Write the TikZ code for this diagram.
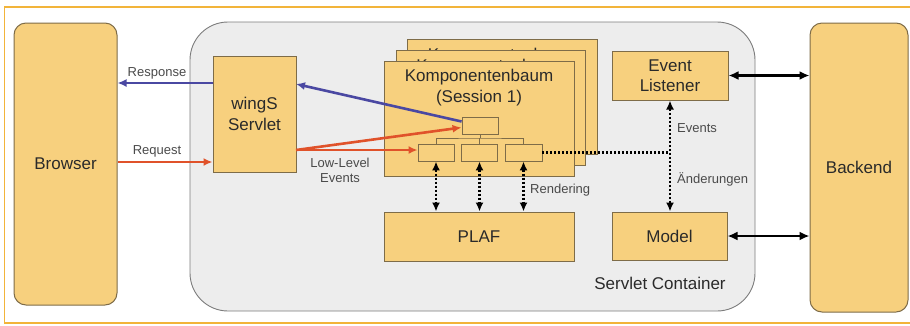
\documentclass[tikz,border=0pt]{standalone}
\usepackage{fontspec}
\setmainfont{Liberation Sans}
\usetikzlibrary{arrows.meta,calc}
\definecolor{boxfill}{HTML}{F7D07E}
\definecolor{boxline}{HTML}{7E6C48}
\definecolor{contfill}{HTML}{EDEDED}
\definecolor{contline}{HTML}{7C7C7C}
\definecolor{frameor}{HTML}{F2B43A}
\definecolor{resblue}{HTML}{4A48A2}
\definecolor{reqred}{HTML}{E0522A}
\definecolor{txt}{HTML}{2A2A2A}
\definecolor{lbl}{HTML}{4A4A4A}
\tikzset{
  ybox/.style={draw=boxline, fill=boxfill, line width=1pt, inner sep=0pt, align=center,
    font=\fontsize{17}{20.5}\selectfont, text=txt},
  rbox/.style={ybox, rounded corners=12pt},
  small/.style={draw=boxline, fill=boxfill, line width=0.9pt, inner sep=0pt, minimum width=36pt, minimum height=17pt},
  lab/.style={font=\fontsize{13}{15}\selectfont, text=lbl, inner sep=0pt, align=center},
  bluearr/.style={draw=resblue, line width=2.6pt, -{Latex[length=9pt,width=8pt]}},
  redarr/.style={draw=reqred, line width=2.6pt, -{Latex[length=9pt,width=8pt]}},
  blkarr/.style={draw=black, line width=2.2pt, {Latex[length=10pt,width=9pt]}-{Latex[length=10pt,width=9pt]}},
  dotarr/.style={draw=black, line width=2.4pt, dash pattern=on 2pt off 2pt, {Latex[length=9pt,width=8pt]}-{Latex[length=9pt,width=8pt]}},
  dotline/.style={draw=black, line width=2.4pt, dash pattern=on 2pt off 2pt},
  treeline/.style={draw=boxline, line width=0.9pt},
  hidtxt/.style={font=\fontsize{17}{20}\selectfont, text=txt, inner sep=0pt},
}
\begin{document}
\begin{tikzpicture}[x=1pt,y=-1pt]
\useasboundingbox (0,0) rectangle (910,325);
\draw[frameor, line width=1.3pt] (4.5,7) rectangle (920,323);
% container
\node[draw=contline, fill=contfill, line width=0.9pt, rounded corners=38pt,
  minimum width=565pt, minimum height=289pt, inner sep=0pt] (cont) at (472.5,166.5) {};
\node[font=\fontsize{17}{20}\selectfont, text=txt, inner sep=0pt] (contlab) at (660,283) {Servlet Container};
% outer boxes
\node[rbox, minimum width=103pt, minimum height=282pt] (browser) at (65.5,164) {Browser};
\node[rbox, minimum width=98pt, minimum height=289pt] (backend) at (859,167.5) {Backend};
% wingS
\node[ybox, minimum width=83pt, minimum height=116pt] (wings) at (254.5,114) {wingS\\Servlet};
% Komponentenbaum stack
\node[ybox, minimum width=190pt, minimum height=115pt] (kb3) at (502,96.5) {};
\begin{scope}
\clip (kb3.north west) rectangle (kb3.south east);
\node[hidtxt] (kb3t) at (502,56) {Komponentenbaum};
\end{scope}
\node[ybox, minimum width=189pt, minimum height=115pt] (kb2) at (490.5,107.5) {};
\begin{scope}
\clip (kb2.north west) rectangle (kb2.south east);
\node[hidtxt] (kb2t) at (490.5,67) {Komponentenbaum};
\end{scope}
\node[ybox, minimum width=190pt, minimum height=115pt] (kb1) at (479,118.5) {};
\node[font=\fontsize{17}{20.5}\selectfont, text=txt, inner sep=0pt, align=center] (kb1t) at (479,87.5) {Komponentenbaum\\(Session 1)};
% tree nodes
\node[small] (root) at (480,125.5) {};
\node[small] (c1) at (436,152.5) {};
\node[small] (c2) at (479.5,152.5) {};
\node[small, minimum width=37pt] (c3) at (523.5,152.5) {};
\coordinate (tj) at (480,138);
\draw[treeline] (root.south) -- (tj);
\draw[treeline] (c1.north) |- (tj) -| (c3.north);
\draw[treeline] (c2.north) -- (c2.north |- tj);
% PLAF, Event Listener, Model
\node[ybox, minimum width=190pt, minimum height=49pt] (plaf) at (479,236.5) {PLAF};
\node[ybox, minimum width=116pt, minimum height=49pt] (el) at (670,75.5) {Event\\Listener};
\node[ybox, minimum width=115pt, minimum height=48pt] (model) at (669.5,236) {Model};
% Response / Request
\coordinate (resp) at (0,83);
\coordinate (req) at (0,162);
\coordinate (wsr1) at (296,84);
\coordinate (wsr2) at (296,150);
\draw[bluearr] (wings.west |- resp) -- (browser.east |- resp);
\draw[redarr] (browser.east |- req) -- (wings.west |- req);
\node[lab] (resplab) at (157,73) {Response};
\node[lab] (reqlab) at (157,151) {Request};
% arrows between wingS and tree
\draw[bluearr] ([yshift=4pt]root.west) -- (wsr1);
\draw[redarr] (wsr2) -- ([yshift=-2pt]root.west);
\draw[redarr] (wsr2) -- (c1.west |- wsr2);
\node[lab] (lllab) at (340,170.5) {Low-Level\\Events};
% rendering
\draw[dotarr] (c1.south) -- (c1.south |- plaf.north);
\draw[dotarr] (c2.south) -- (c2.south |- plaf.north);
\draw[dotarr] (c3.south) -- (c3.south |- plaf.north);
\node[lab, anchor=west] (rendlab) at (530,190) {Rendering};
% events
\draw[dotline] (c3.east) -- (c3.east -| el.south);
\draw[dotarr] (el.south) -- (el.south |- model.north);
\node[lab, anchor=west] (evlab) at (677,128) {Events};
\node[lab, anchor=west] (anlab) at (677,179) {Änderungen};
% backend
\draw[blkarr] (el.east) -- (backend.west |- el.east);
\draw[blkarr] (model.east) -- (backend.west |- model.east);
\end{tikzpicture}
\end{document}
